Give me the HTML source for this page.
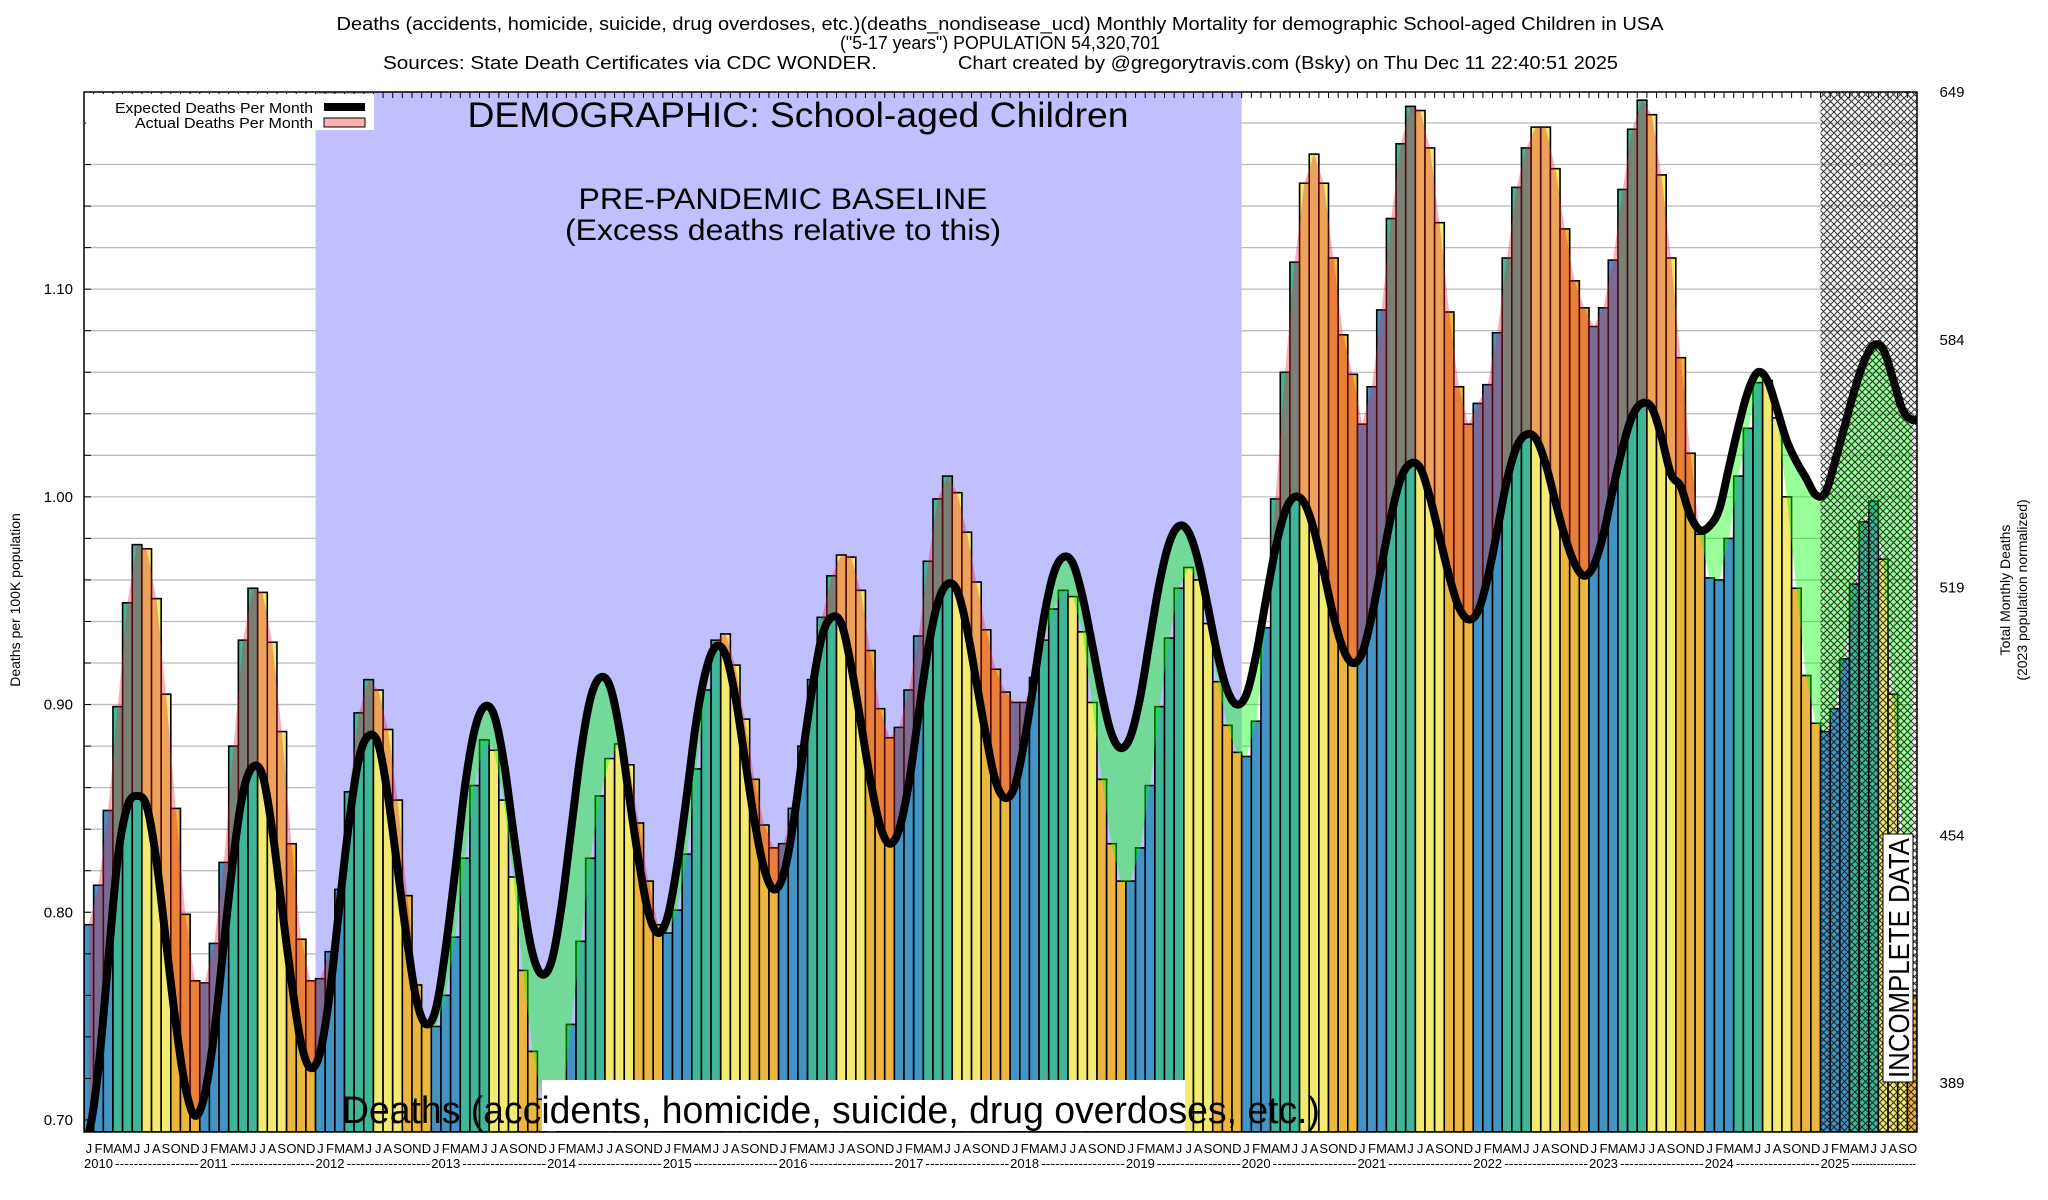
<!DOCTYPE html>
<html><head><meta charset="utf-8"><title>Monthly Mortality - School-aged Children</title>
<style>
html,body{margin:0;padding:0;background:#fff;}
svg{display:block;font-family:"Liberation Sans",Arial,sans-serif;}
</style></head>
<body>
<svg id="chart" width="2048" height="1200" viewBox="0 0 2048 1200" xmlns="http://www.w3.org/2000/svg">
<defs>
<pattern id="hatch" width="7" height="7" patternUnits="userSpaceOnUse">
<path d="M0,0 L7,7 M7,0 L0,7" stroke="#111" stroke-width="1.1" fill="none"/>
</pattern>
<clipPath id="plotclip"><rect x="84" y="92" width="1833" height="1040"/></clipPath>
</defs>
<g font-size="18" text-anchor="middle" fill="#000">
<text x="1000" y="30" textLength="1327" lengthAdjust="spacingAndGlyphs">Deaths (accidents, homicide, suicide, drug overdoses, etc.)(deaths_nondisease_ucd) Monthly Mortality for demographic School-aged Children in USA</text>
<text x="1000" y="49" textLength="320" lengthAdjust="spacingAndGlyphs">("5-17 years") POPULATION 54,320,701</text>
<text x="383" y="69" text-anchor="start" textLength="494" lengthAdjust="spacingAndGlyphs">Sources: State Death Certificates via CDC WONDER.</text>
<text x="958" y="69" text-anchor="start" textLength="660" lengthAdjust="spacingAndGlyphs">Chart created by @gregorytravis.com (Bsky) on Thu Dec 11 22:40:51 2025</text>
</g>
<g id="plot" clip-path="url(#plotclip)"></g>
<g id="over"></g>
</svg>
<script>
const actual2010 = [0.794,0.813,0.849,0.899,0.949,0.977,0.975,0.951,0.905,0.850,0.799,0.767];
const actual2011 = [0.766,0.785,0.824,0.880,0.931,0.956,0.954,0.930,0.887,0.833,0.787,0.767];
const actual2012 = [0.768,0.781,0.811,0.858,0.896,0.912,0.907,0.888,0.854,0.808,0.765,0.745];
const actual2013 = [0.745,0.760,0.788,0.826,0.861,0.883,0.878,0.854,0.817,0.772,0.733,0.710];
const actual2014 = [0.694,0.706,0.746,0.786,0.826,0.856,0.874,0.881,0.871,0.843,0.815,0.794];
const actual2015 = [0.790,0.801,0.828,0.869,0.907,0.931,0.934,0.919,0.893,0.864,0.842,0.831];
const actual2016 = [0.833,0.850,0.880,0.912,0.942,0.962,0.972,0.971,0.955,0.926,0.898,0.884];
const actual2017 = [0.889,0.907,0.933,0.969,0.999,1.010,1.002,0.983,0.959,0.936,0.917,0.906];
const actual2018 = [0.901,0.901,0.913,0.931,0.946,0.955,0.952,0.935,0.901,0.864,0.833,0.815];
const actual2019 = [0.815,0.831,0.861,0.899,0.932,0.956,0.966,0.960,0.939,0.911,0.890,0.877];
const actual2020 = [0.875,0.892,0.937,0.999,1.060,1.113,1.151,1.165,1.151,1.115,1.078,1.059];
const actual2021 = [1.035,1.053,1.090,1.134,1.170,1.188,1.186,1.168,1.132,1.089,1.053,1.035];
const actual2022 = [1.045,1.054,1.079,1.115,1.149,1.168,1.178,1.178,1.158,1.129,1.104,1.091];
const actual2023 = [1.082,1.091,1.114,1.148,1.177,1.191,1.184,1.155,1.115,1.067,1.021,0.982];
const actual2024 = [0.961,0.960,0.980,1.010,1.033,1.055,1.056,1.038,1.000,0.956,0.914,0.891];
const actual2025 = [0.887,0.898,0.922,0.958,0.988,0.998,0.970,0.905,0.836,0.760];

const expected2010 = [0.694,0.725,0.776,0.826,0.851,0.856,0.851,0.825,0.786,0.747,0.716,0.702];
const expected2011 = [0.712,0.742,0.785,0.827,0.858,0.870,0.866,0.840,0.803,0.767,0.737,0.725];
const expected2012 = [0.733,0.762,0.804,0.844,0.874,0.885,0.881,0.856,0.821,0.786,0.757,0.746];
const expected2013 = [0.754,0.783,0.821,0.861,0.888,0.899,0.895,0.873,0.839,0.806,0.780,0.770];
const expected2014 = [0.777,0.803,0.840,0.877,0.903,0.913,0.909,0.888,0.856,0.825,0.800,0.790];
const expected2015 = [0.798,0.823,0.857,0.893,0.917,0.928,0.924,0.904,0.874,0.844,0.821,0.811];
const expected2016 = [0.818,0.842,0.876,0.908,0.933,0.942,0.939,0.919,0.892,0.864,0.842,0.833];
const expected2017 = [0.840,0.862,0.895,0.927,0.949,0.958,0.955,0.937,0.911,0.885,0.863,0.855];
const expected2018 = [0.861,0.883,0.912,0.942,0.963,0.971,0.968,0.952,0.929,0.905,0.886,0.879];
const expected2019 = [0.885,0.904,0.932,0.959,0.978,0.986,0.983,0.969,0.947,0.924,0.907,0.900];
const expected2020 = [0.905,0.924,0.950,0.975,0.993,1.000,0.997,0.984,0.964,0.943,0.927,0.920];
const expected2021 = [0.925,0.943,0.967,0.991,1.009,1.016,1.014,1.000,0.981,0.962,0.947,0.941];
const expected2022 = [0.945,0.961,0.984,1.008,1.024,1.030,1.028,1.016,0.998,0.981,0.968,0.962];
const expected2023 = [0.967,0.982,1.004,1.024,1.039,1.045,1.043,1.029,1.011,1.005,0.991,0.984];
const expected2024 = [0.986,0.994,1.014,1.034,1.051,1.060,1.056,1.042,1.027,1.017,1.009,1.001];
const expected2025 = [1.002,1.017,1.034,1.051,1.065,1.073,1.071,1.057,1.042,1.037];

const years = ["2010","2011","2012","2013","2014","2015","2016","2017","2018","2019","2020","2021","2022","2023","2024","2025"];
const monthLetters = ["J","F","M","A","M","J","J","A","S","O","N","D"];
const yTickValues = [0.70,0.80,0.90,1.00,1.10];
const yTickLabels = ["0.70","0.80","0.90","1.00","1.10"];
const rightTickLabels = ["389","454","519","584","649"];

const actual = [].concat(actual2010,actual2011,actual2012,actual2013,actual2014,actual2015,actual2016,actual2017,actual2018,actual2019,actual2020,actual2021,actual2022,actual2023,actual2024,actual2025);
const expected = [].concat(expected2010,expected2011,expected2012,expected2013,expected2014,expected2015,expected2016,expected2017,expected2018,expected2019,expected2020,expected2021,expected2022,expected2023,expected2024,expected2025);

const NS = "http://www.w3.org/2000/svg";
const L = 84, R = 1917, T = 92, B = 1132;
const NM = 190;
const bw = (R - L) / NM;
const YMIN = 0.6942, YUNIT = 2077;
function xs(i){ return L + i * bw; }
function ys(v){ return B - (v - YMIN) * YUNIT; }
function mk(tag, attrs, parent){
  const e = document.createElementNS(NS, tag);
  for (const k in attrs) e.setAttribute(k, attrs[k]);
  parent.appendChild(e);
  return e;
}
const plot = document.getElementById("plot");
const over = document.getElementById("over");

for (let k = 0; k <= 24; k++) {
  const v = 0.70 + k * 0.02;
  const g = mk("line", {x1:L, x2:R, y1:ys(v), y2:ys(v), stroke:"#bcbcbc", "stroke-width":1.3}, plot);
  
  
}
const base = mk("rect", {x:xs(24), y:T, width:xs(120)-xs(24), height:B-T, fill:"#c0c0ff"}, plot);



const qColors = ["#4394c5","#4394c5","#4394c5","#41b597","#41b597","#41b597","#f2ea71","#f2ea71","#f2ea71","#ecb540","#ecb540","#ecb540"];
for (let i = 0; i < actual.length; i++) {
  const y = ys(actual[i]);
  const b = mk("rect", {x:xs(i), y:y, width:bw, height:B - y, fill:qColors[i % 12], stroke:"#000", "stroke-width":1.6}, plot);
  
  
}

function expAt(t){
  const n = expected.length;
  let i = Math.floor(t); let f = t - i;
  if (i >= n - 1) { i = n - 2; f = 1; }
  if (i < 0) { i = 0; f = 0; }
  const p0 = expected[Math.max(i-1,0)], p1 = expected[i], p2 = expected[i+1], p3 = expected[Math.min(i+2,n-1)];
  return 0.5*((2*p1)+(-p0+p2)*f+(2*p0-5*p1+4*p2-p3)*f*f+(-p0+3*p1-3*p2+p3)*f*f*f);
}
function actAt(t){
  const n = actual.length;
  let i = Math.floor(t); let f = t - i;
  if (i >= n - 1) return actual[n-1];
  if (i < 0) return actual[0];
  return actual[i] + (actual[i+1]-actual[i]) * f;
}
const samples = [];
for (let t = 0; t <= NM - 1 + 1e-9; t += 0.125) samples.push(t);
function cx(t){ return xs(t + 0.5); }
let redTop = [], redBot = [], grnTop = [], grnBot = [];
samples.forEach(t => {
  const a = actAt(t), e = expAt(t);
  const x = cx(t).toFixed(2);
  redTop.push(x + "," + ys(Math.max(a,e)).toFixed(2));
  redBot.unshift(x + "," + ys(e).toFixed(2));
  grnTop.push(x + "," + ys(Math.max(a,e)).toFixed(2));
  grnBot.unshift(x + "," + ys(a).toFixed(2));
});
const green = mk("polygon", {points: grnTop.concat(grnBot).join(" "), fill:"rgba(0,255,0,0.4)"}, plot);


const red = mk("polygon", {points: redTop.concat(redBot).join(" "), fill:"rgba(230,30,50,0.35)"}, plot);



let d = "";
samples.forEach((t, k) => { d += (k ? "L" : "M") + cx(t).toFixed(2) + "," + ys(expAt(t)).toFixed(2); });
d = "M" + L + "," + ys(expAt(0) - (expAt(0.5)-expAt(0))).toFixed(2) + d.replace(/^M/, "L") + "L" + R + "," + ys(expAt(NM-1)).toFixed(2);
const eline = mk("path", {d:d, fill:"none", stroke:"#000", "stroke-width":8, "stroke-linejoin":"round"}, plot);



const hatch = mk("rect", {x:xs(180), y:T, width:R - xs(180), height:B - T, fill:"url(#hatch)", opacity:0.85}, plot);



for (let i = 1; i < NM; i++) {
  const tk = mk("line", {x1:xs(i), x2:xs(i), y1:T, y2:T+6, stroke:"#000", "stroke-width":1}, over);
  
  
}
for (let k = 0; k <= 24; k++) {
  const tk = mk("line", {x1:L, x2:L+7, y1:ys(0.70+k*0.02), y2:ys(0.70+k*0.02), stroke:"#000", "stroke-width":1}, over);
  
  
}
const frame = mk("rect", {x:L, y:T, width:R-L, height:B-T, fill:"none", stroke:"#000", "stroke-width":1.5}, over);



yTickValues.forEach((v, k) => {
  const t = mk("text", {x:73, y:ys(v)+5, "text-anchor":"end", "font-size":15}, over);
  t.textContent = yTickLabels[k];
  
  
});
rightTickLabels.forEach((s, k) => {
  const y = 1083 - k * 247.75;
  const t = mk("text", {x:1952, y:y+5, "text-anchor":"middle", "font-size":15}, over);
  t.textContent = s;
  
  
});
for (let i = 0; i < NM; i++) {
  const t = mk("text", {x:xs(i+0.5), y:1153, "text-anchor":"middle", "font-size":13}, over);
  t.textContent = monthLetters[i % 12];
  
  
}
years.forEach((yr, k) => {
  const x0 = xs(k*12);
  const t = mk("text", {x:x0, y:1168, "font-size":13}, over);
  t.textContent = yr;
  
  
  const end = Math.min(xs(k*12+12), R);
  if (end - x0 - 32 > 5) {
    const dsh = mk("text", {x:x0+31, y:1168, "font-size":13, textLength:end-x0-32, lengthAdjust:"spacingAndGlyphs"}, over);
    dsh.textContent = "------------------";
    
    
  }
});
</script>
<svg style="position:absolute;left:0;top:0" width="2048" height="1200" viewBox="0 0 2048 1200" xmlns="http://www.w3.org/2000/svg" font-family="Liberation Sans, Arial, sans-serif">
<g>
<rect x="86" y="94" width="288" height="36" fill="#fff"/>
<text x="313" y="113" text-anchor="end" font-size="15" textLength="198" lengthAdjust="spacingAndGlyphs">Expected Deaths Per Month</text>
<rect x="324" y="103" width="41" height="8" fill="#000"/>
<text x="313" y="128" text-anchor="end" font-size="15" textLength="178" lengthAdjust="spacingAndGlyphs">Actual Deaths Per Month</text>
<rect x="324" y="118" width="41" height="9" fill="#ffb0b0" stroke="#000" stroke-width="1"/>
</g>
<text x="798" y="127" text-anchor="middle" font-size="35" textLength="661" lengthAdjust="spacingAndGlyphs">DEMOGRAPHIC: School-aged Children</text>
<text x="783" y="209" text-anchor="middle" font-size="30" textLength="409" lengthAdjust="spacingAndGlyphs">PRE-PANDEMIC BASELINE</text>
<text x="783" y="240" text-anchor="middle" font-size="30" textLength="436" lengthAdjust="spacingAndGlyphs">(Excess deaths relative to this)</text>
<rect x="542" y="1080" width="643" height="51" fill="#fff"/>
<text x="342" y="1123" font-size="38" textLength="978" lengthAdjust="spacingAndGlyphs">Deaths (accidents, homicide, suicide, drug overdoses, etc.)</text>
<g transform="translate(1909,1082) rotate(-90)">
<rect x="0" y="-26" width="248" height="30" fill="#fff" stroke="#000" stroke-width="1"/>
<text x="124" y="0" text-anchor="middle" font-size="29" textLength="240" lengthAdjust="spacingAndGlyphs">INCOMPLETE DATA</text>
</g>
<text transform="translate(20,600) rotate(-90)" text-anchor="middle" font-size="14">Deaths per 100K population</text>
<text transform="translate(2010,590) rotate(-90)" text-anchor="middle" font-size="14">Total Monthly Deaths</text>
<text transform="translate(2027,590) rotate(-90)" text-anchor="middle" font-size="14">(2023 population normalized)</text>
</svg>
</body></html>
